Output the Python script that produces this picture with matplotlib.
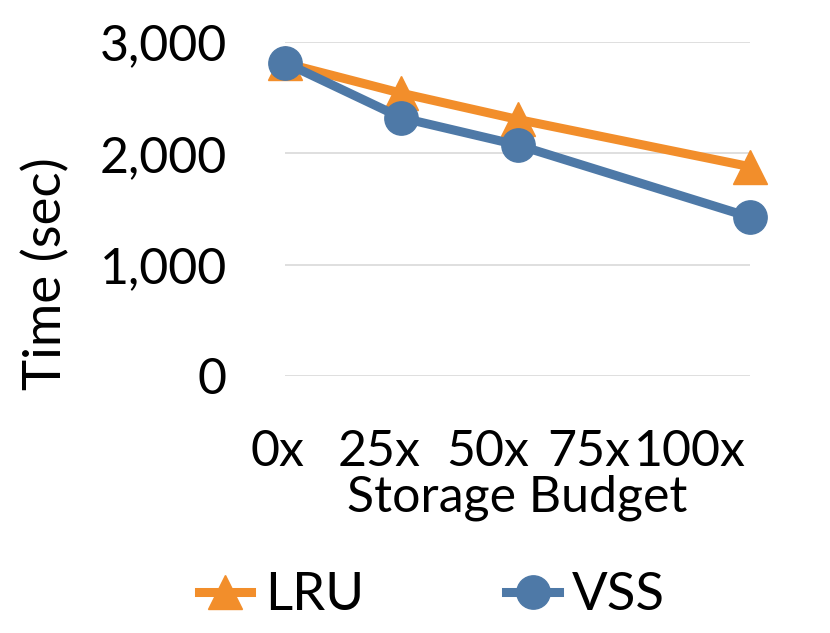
import numpy as np
import matplotlib.pyplot as plt
from matplotlib.transforms import ScaledTranslation

plt.rcParams['font.family'] = ['Lato', 'DejaVu Sans']

budget = [0, 25, 50, 100]
lru = [2810, 2540, 2305, 1880]
vss = [2815, 2320, 2075, 1427]
xticks = [0, 25, 50, 75, 100]
xticklabels = ['0x', '25x', '50x', '75x', '100x']
yticks = [0, 1000, 2000, 3000]

orange = '#F28E2B'
blue = '#4E79A7'
fs = 38

fig = plt.figure(figsize=(8.3, 6.33), dpi=100)
ax = fig.add_axes([285/830, 1-376/633, (750-285)/830, (376-42)/633])

ax.plot(budget, lru, color=orange, lw=6.5, marker='^', ms=24, label='LRU', zorder=3)
ax.plot(budget, vss, color=blue, lw=6.5, marker='o', ms=24, label='VSS', zorder=4)

ax.set_xlim(0, 100)
ax.set_ylim(0, 3000)
ax.set_yticks(yticks)
ax.set_yticklabels([f'{v:,}' for v in yticks])
ax.set_xticks(xticks)
ax.set_xticklabels(xticklabels)
ax.tick_params(axis='both', length=0)
ax.tick_params(axis='y', pad=42, labelsize=36)
ax.tick_params(axis='x', pad=38, labelsize=36)
# Excel squeezed the category labels leftwards
shifts = [-8, -22, -30, -45, -60]
for lab, dx in zip(ax.get_xticklabels(), shifts):
    lab.set_transform(lab.get_transform() + ScaledTranslation(dx/100, 0, fig.dpi_scale_trans))

ax.grid(axis='y', color='#D9D9D9', lw=1.2)
ax.set_axisbelow(True)
for s in ax.spines.values():
    s.set_visible(False)
for ln in ax.lines:
    ln.set_clip_on(False)

ax.set_xlabel('Storage Budget', fontsize=36, labelpad=0)
ax.set_ylabel('Time (sec)', fontsize=fs)
ax.yaxis.label.set_va('center')
ax.yaxis.set_label_coords((46-285)/465, (376-274)/334)

fig.legend(loc='center', bbox_to_anchor=(432/830, 1-596/633), ncol=2, frameon=False,
           fontsize=fs, handlelength=1.0, handletextpad=0.25, columnspacing=2.7)

fig.savefig('out.png', dpi=100)
plt.close(fig)
